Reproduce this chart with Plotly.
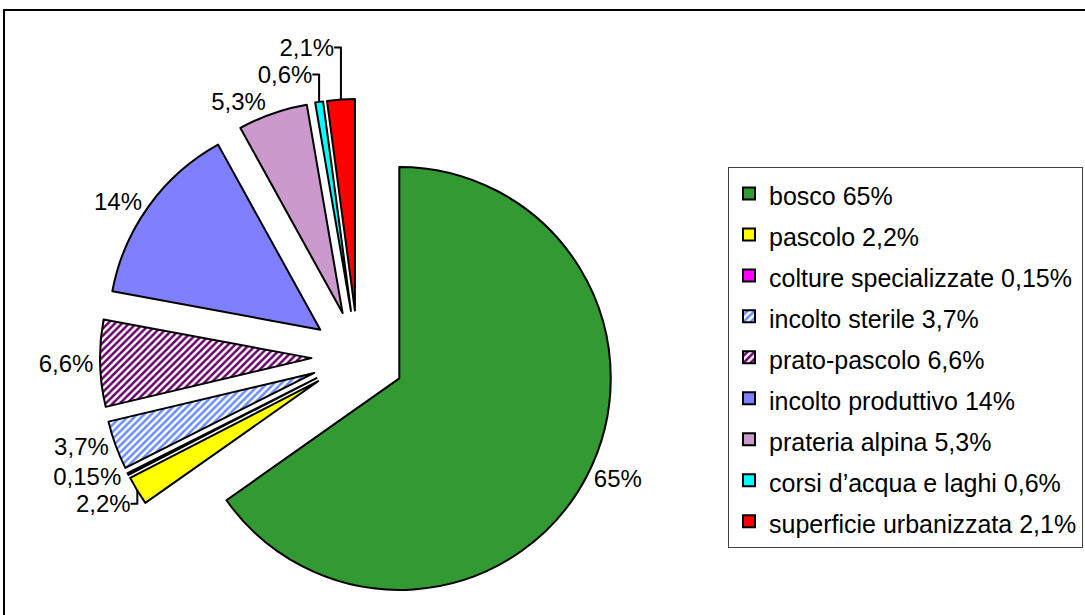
import plotly.graph_objects as go

# Land use shares (%)
categories = [
    "bosco",
    "pascolo",
    "colture specializzate",
    "incolto sterile",
    "prato-pascolo",
    "incolto produttivo",
    "prateria alpina",
    "corsi d\u2019acqua e laghi",
    "superficie urbanizzata",
]
shares = [65, 2.2, 0.15, 3.7, 6.6, 14, 5.3, 0.6, 2.1]

# Slice styling
fill_colors = ["#339933", "#FFFF00", "#FF00FF", "#FFFFFF", "#FFFFFF",
               "#8080FF", "#CC99CC", "#00FFFF", "#FF0000"]
hatch_shapes = ["", "", "", "/", "/", "", "", "", ""]
hatch_colors = ["#000000", "#000000", "#000000", "#6A8CFF", "#660066",
                "#000000", "#000000", "#000000", "#000000"]

W, H = 1085, 615
FONT = "Liberation Sans, Arial, sans-serif"


def pct(v):
    return f"{v:g}".replace(".", ",") + "%"


legend_labels = [
    f"<span style='font-size:25px'>{c} {pct(v)}</span>" for c, v in zip(categories, shares)
]

# pie placement (pixels)
cx, cy, half = 358, 357, 258

fig = go.Figure()
fig.add_trace(go.Pie(
    labels=legend_labels,
    values=shares,
    text=[pct(v) for v in shares],
    textinfo="text",
    textposition="outside",
    textfont=dict(family=FONT, size=24, color="black"),
    sort=False,
    direction="clockwise",
    rotation=0,
    pull=[0.22] * len(shares),
    marker=dict(
        colors=fill_colors,
        line=dict(color="black", width=2),
        pattern=dict(shape=hatch_shapes, fgcolor=hatch_colors, size=5, solidity=0.5),
    ),
    domain=dict(
        x=[(cx - half) / W, (cx + half) / W],
        y=[1 - (cy + half) / H, 1 - (cy - half) / H],
    ),
    hoverinfo="skip",
))

fig.update_layout(
    width=W,
    height=H,
    margin=dict(l=0, r=0, t=0, b=0, autoexpand=False),
    paper_bgcolor="white",
    plot_bgcolor="white",
    font=dict(family=FONT, color="black"),
    showlegend=True,
    legend=dict(
        x=728 / W,
        y=1 - 167 / H,
        xanchor="left",
        yanchor="top",
        bordercolor="#404040",
        borderwidth=1,
        bgcolor="white",
        font=dict(family=FONT, size=29.2, color="black"),
        itemclick=False,
        itemdoubleclick=False,
    ),
    shapes=[
        dict(
            type="rect", xref="paper", yref="paper",
            x0=4 / W, x1=1.05, y0=-0.05, y1=1 - 10 / H,
            line=dict(color="black", width=2),
            fillcolor="rgba(0,0,0,0)",
            layer="below",
        )
    ],
)

fig.write_html("out.html")
